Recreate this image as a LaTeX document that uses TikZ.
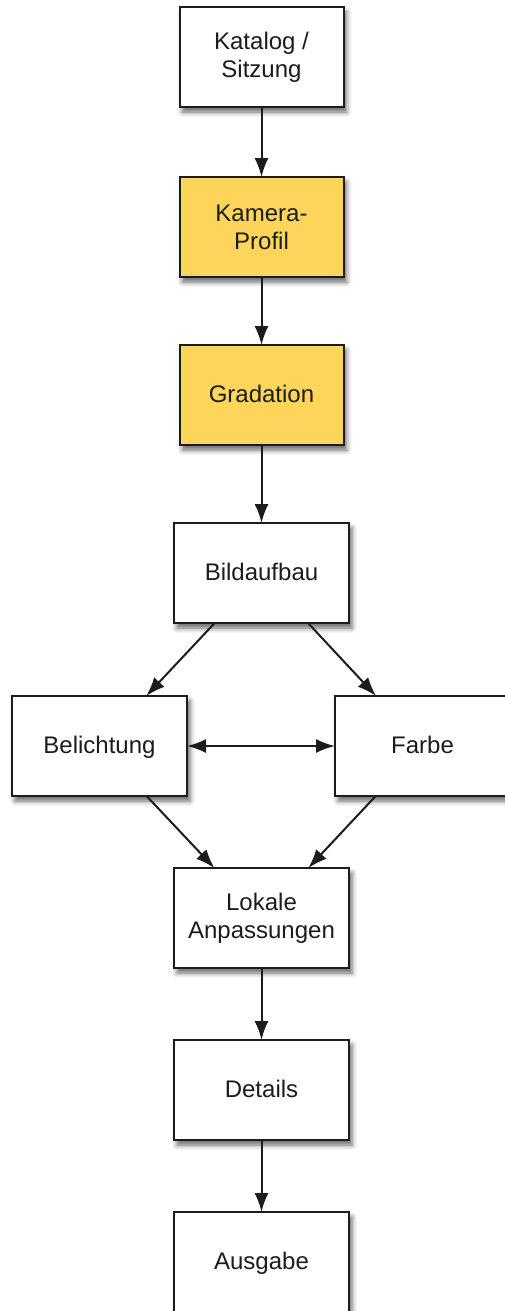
\documentclass[tikz,border=0pt]{standalone}
\usepackage{fontspec}
\setmainfont{Liberation Sans}
\usepackage{tikz}
\usetikzlibrary{arrows.meta,positioning,shadows.blur}
\definecolor{flowYellow}{RGB}{253,213,90}
\definecolor{flowLine}{RGB}{28,28,28}

\begin{document}
\begin{tikzpicture}[node distance=70pt and 0pt,
  flowbox/.style={draw=flowLine, line width=2pt, outer sep=0pt, fill=white, text=flowLine, minimum width=175pt, minimum height=100pt, align=center, font=\fontsize{24}{28}\selectfont, blur shadow={shadow xshift=3pt, shadow yshift=-5pt, shadow blur radius=5pt, shadow opacity=60}},
  oneline/.style={text height=18pt, text depth=3pt},
  smallbox/.style={flowbox, minimum width=164pt},
  accentbox/.style={smallbox, fill=flowYellow},
  flowarrow/.style={-{Latex[length=19pt, width=14pt]}, line width=2pt, color=flowLine}]
\useasboundingbox (0pt,0pt) rectangle (505pt,-1311pt);
\node[smallbox] (katalog) at (261.5pt,-57pt) {Katalog /\\Sitzung};
\node[accentbox, below=of katalog] (kamera) {Kamera-\\Profil};
\node[accentbox, below=68pt of kamera, oneline] (gradation) {Gradation};
\node[flowbox, below=78pt of gradation, oneline] (bild) {Bildaufbau};
\node[flowbox, below left=73pt and -13pt of bild, oneline] (belichtung) {Belichtung};
\node[flowbox, below right=73pt and -14pt of bild, oneline] (farbe) {Farbe};
\node[flowbox, below right=72pt and -13pt of belichtung] (lokal) {Lokale\\Anpassungen};
\node[flowbox, below=72pt of lokal, oneline] (details) {Details};
\node[flowbox, below=72pt of details, oneline] (ausgabe) {Ausgabe};

\draw[flowarrow] (katalog)--(kamera);
\draw[flowarrow] (kamera)--(gradation);
\draw[flowarrow] (gradation)--(bild);
\draw[flowarrow] (bild)--(belichtung);
\draw[flowarrow] (bild)--(farbe);
\draw[flowarrow, {Latex[length=19pt, width=14pt]}-{Latex[length=19pt, width=14pt]}] (belichtung)--(farbe);
\draw[flowarrow] (belichtung)--(lokal);
\draw[flowarrow] (farbe)--(lokal);
\draw[flowarrow] (lokal)--(details);
\draw[flowarrow] (details)--(ausgabe);
\end{tikzpicture}
\end{document}
